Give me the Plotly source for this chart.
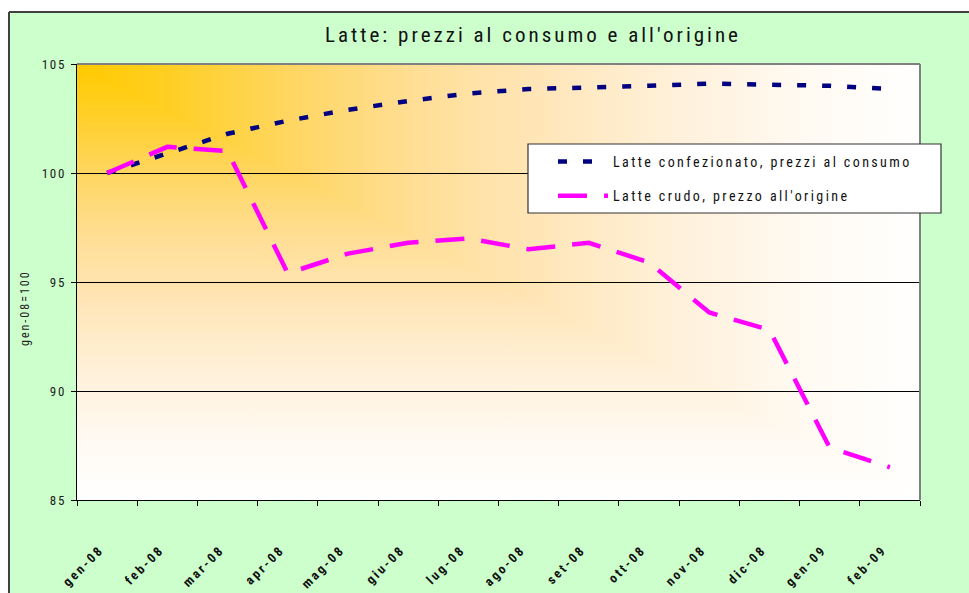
import base64
import plotly.graph_objects as go

# ---------------- data ----------------
months = ["gen-08", "feb-08", "mar-08", "apr-08", "mag-08", "giu-08", "lug-08",
          "ago-08", "set-08", "ott-08", "nov-08", "dic-08", "gen-09", "feb-09"]
consumo = [100.0, 100.9, 101.8, 102.4, 102.9, 103.3, 103.65,
           103.85, 103.9, 104.0, 104.1, 104.05, 104.0, 103.85]
origine = [100.0, 101.2, 101.0, 95.4, 96.3, 96.8, 97.0,
           96.5, 96.8, 95.9, 93.6, 92.8, 87.4, 86.5]
y_ticks = [85, 90, 95, 100, 105]
series_names = ["Latte confezionato, prezzi al consumo", "Latte crudo, prezzo all'origine"]
title_text = "Latte: prezzi al consumo e all'origine"
y_title = "gen-08=100"

NARROW = "Liberation Sans Narrow, Arial Narrow, Roboto Condensed, Liberation Sans, sans-serif"

# ---------------- layout geometry (pixels) ----------------
W, H = 969, 593
L, R, T, B = 77, 920, 64, 500
PW, PH = R - L, B - T


def px_x(p):
    return (p - L) / PW


def px_y(p):
    return (B - p) / PH


# "from corner" gradient for the plot area: two linear gradients combined with
# a 'lighten' blend, giving L-shaped isolines from the top-left corner.
stops = ('<stop offset="0" stop-color="#FFCA00"/>'
         '<stop offset="0.1" stop-color="#FFCE20"/>'
         '<stop offset="0.25" stop-color="#FFD660"/>'
         '<stop offset="0.4" stop-color="#FFDE95"/>'
         '<stop offset="0.55" stop-color="#FFE6B8"/>'
         '<stop offset="0.7" stop-color="#FFF0D8"/>'
         '<stop offset="0.85" stop-color="#FFF9F0"/>'
         '<stop offset="1" stop-color="#FFFFFF"/>')
svg = (
    '<svg xmlns="http://www.w3.org/2000/svg" width="100" height="100" viewBox="0 0 100 100" '
    'preserveAspectRatio="none"><defs>'
    '<linearGradient id="h" x1="0" y1="0" x2="1" y2="0">' + stops + '</linearGradient>'
    '<linearGradient id="v" x1="0" y1="0" x2="0" y2="1">' + stops + '</linearGradient>'
    '</defs><g style="isolation:isolate">'
    '<rect width="100" height="100" fill="url(#h)"/>'
    '<rect width="100" height="100" fill="url(#v)" style="mix-blend-mode:lighten"/>'
    '</g></svg>'
)
svg_uri = "data:image/svg+xml;base64," + base64.b64encode(svg.encode()).decode()

fig = go.Figure()
fig.add_trace(go.Scatter(
    x=months, y=consumo, mode="lines", name=series_names[0], legendgroup="a",
    line=dict(color="#000080", width=4.5, dash="9px,16px"),
))
fig.add_trace(go.Scatter(
    x=months, y=origine, mode="lines", name=series_names[1], legendgroup="b",
    line=dict(color="#FF00FF", width=4.5, dash="29px,17px"),
))

shapes = [
    # white strips outside the green chart area
    dict(type="rect", xref="paper", yref="paper", x0=-0.3, x1=1.3, y0=px_y(12), y1=px_y(-20),
         fillcolor="white", line=dict(width=0), layer="below"),
    dict(type="rect", xref="paper", yref="paper", x0=-0.3, x1=px_x(9), y0=-0.5, y1=1.5,
         fillcolor="white", line=dict(width=0), layer="below"),
    # chart-area border (top and left)
    dict(type="line", xref="paper", yref="paper", x0=px_x(9), x1=1.3, y0=px_y(12), y1=px_y(12),
         line=dict(color="#404040", width=2), layer="below"),
    dict(type="line", xref="paper", yref="paper", x0=px_x(9), x1=px_x(9), y0=-0.5, y1=px_y(12),
         line=dict(color="#404040", width=2), layer="below"),
    # plot-area border top and right (grey)
    dict(type="line", xref="paper", yref="paper", x0=0, x1=1, y0=1, y1=1,
         line=dict(color="#808080", width=2), layer="above"),
    dict(type="line", xref="paper", yref="paper", x0=1, x1=1, y0=0, y1=1,
         line=dict(color="#808080", width=2), layer="above"),
    # legend box
    dict(type="rect", xref="paper", yref="paper", x0=px_x(528), x1=px_x(941),
         y0=px_y(213), y1=px_y(144), fillcolor="white",
         line=dict(color="#333333", width=1.2), layer="above"),
]

fig.update_layout(
    width=W, height=H,
    margin=dict(l=L, r=W - R, t=T, b=H - B, pad=0),
    paper_bgcolor="#CCFFCC",
    plot_bgcolor="white",
    showlegend=True,
    title=dict(text=title_text, x=px_x(533), xref="paper", xanchor="center",
               y=1 - 35 / H, yref="container", yanchor="middle",
               font=dict(family=NARROW, size=21, color="#111111")),
    images=[dict(source=svg_uri, xref="paper", yref="paper", x=0, y=1, sizex=1, sizey=1,
                 sizing="stretch", layer="below", xanchor="left", yanchor="top")],
    shapes=shapes,
    annotations=[dict(text=y_title, xref="paper", yref="paper", x=px_x(25), y=px_y(308),
                      textangle=-90, showarrow=False, xanchor="center", yanchor="middle",
                      font=dict(family=NARROW, size=12, color="#222222"))],
    legend=dict(x=px_x(553), y=px_y(146), xanchor="left", yanchor="top",
                bgcolor="rgba(0,0,0,0)", borderwidth=0, itemwidth=50,
                traceorder="grouped", tracegroupgap=13,
                font=dict(family=NARROW, size=14, color="#111111")),
    xaxis=dict(type="category", tickson="boundaries", range=[-0.5, len(months) - 0.5],
               showline=True, linecolor="black", linewidth=1.2,
               ticks="outside", ticklen=5, tickcolor="black", tickwidth=1,
               tickangle=-45, ticklabelstandoff=36, ticklabelshift=-7, showgrid=False,
               tickfont=dict(family=NARROW, size=13, color="#111111", weight="bold"),
               automargin=False, fixedrange=True),
    yaxis=dict(range=[85, 105], tickvals=y_ticks, ticktext=[str(v) for v in y_ticks],
               showline=True, linecolor="black", linewidth=1.2,
               ticks="outside", ticklen=5, tickcolor="black", tickwidth=1,
               ticklabelstandoff=2,
               showgrid=True, gridcolor="black", gridwidth=1, zeroline=False,
               tickfont=dict(family=NARROW, size=13, color="#222222"),
               automargin=False, fixedrange=True),
)

post = """
document.body.style.margin = '0';
document.body.style.padding = '0';
var gd = document.getElementById('{plot_id}');
function ls(sel, v){ gd.querySelectorAll(sel).forEach(function(e){ e.style.letterSpacing = v; }); }
ls('.gtitle', '3px');
ls('.legendtext', '2.4px');
ls('.ytick text', '1.8px');
ls('.xtick text', '2.4px');
ls('.annotation-text', '2px');
gd.querySelectorAll('.legend [clip-path], .legend[clip-path]').forEach(function(e){ e.removeAttribute('clip-path'); });
"""

fig.write_html("out.html", post_script=post, config={"displayModeBar": False})
